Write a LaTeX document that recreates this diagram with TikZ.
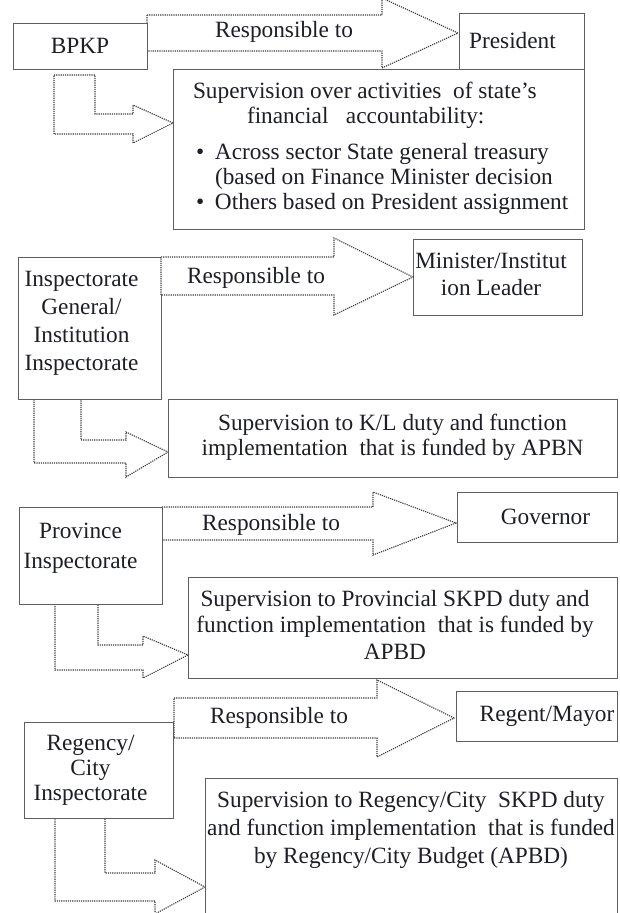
\documentclass[tikz,border=0pt]{standalone}
\usepackage{fontspec}
\setmainfont{Liberation Serif}
\definecolor{boxline}{HTML}{5E5E5E}
\definecolor{dotline}{HTML}{3C3C3C}
\definecolor{ink}{HTML}{1E1E28}
\begin{document}
\begin{tikzpicture}[x=1pt,y=-1pt,
  box/.style={draw=boxline, line width=1pt, fill=white, text=ink, inner sep=0pt,
    font=\fontsize{23.3}{28}\selectfont},
  blockarrow/.style={draw=dotline, line width=1.1pt, dash pattern=on 1.2pt off 1pt, fill=white},
  lbl/.style={text=ink, inner sep=0pt, font=\fontsize{23.3}{28}\selectfont}]
\useasboundingbox (0,0) rectangle (619,913);
\clip (0,0) rectangle (619,913);

% "Responsible to" block arrows and the bent block arrows (drawn under the boxes)
\draw[blockarrow] (147,15) -- (382,15) -- (382,-2) -- (458,33) -- (382,68) -- (382,51) -- (147,51) -- cycle;
\draw[blockarrow] (54,75) -- (95,75) -- (95,114) -- (133,114) -- (133,105) -- (173,123)
  -- (133,143) -- (133,134) -- (54,134) -- cycle;
\draw[blockarrow] (34,399) -- (81,399) -- (81,440) -- (126,440) -- (126,432) -- (168,452)
  -- (126,477) -- (126,463) -- (34,463) -- cycle;
\draw[blockarrow] (162,507) -- (373,507) -- (373,492) -- (456,523) -- (373,555) -- (373,540) -- (162,540) -- cycle;
\draw[blockarrow] (55,604) -- (98,604) -- (98,645) -- (143,645) -- (143,636) -- (188,655)
  -- (143,678) -- (143,670) -- (55,670) -- cycle;
\draw[blockarrow] (174,698) -- (377,698) -- (377,680) -- (454,718) -- (377,757) -- (377,738) -- (174,738) -- cycle;
\draw[blockarrow] (55,818) -- (105,818) -- (105,873) -- (155,873) -- (155,860) -- (205,887)
  -- (155,914) -- (155,901) -- (55,901) -- cycle;

% BPKP level
\node[box, minimum width=134pt, minimum height=46pt] (bpkp) at (80,46) {BPKP};
\node[box, minimum width=125pt, minimum height=56pt] (pres) at (521.5,41) {President\hspace*{18pt}};
\node[box, minimum width=411pt, minimum height=160pt, font=\fontsize{23.3}{25}\selectfont] (sup) at (378.5,149)
  {\makebox[373pt][l]{\begin{tabular}{@{}l@{}}
   \hspace*{1pt}Supervision over activities\ \ of state’s\\
   \hspace*{55pt}financial\ \ \ accountability:\\[11pt]
   \hspace*{4pt}\makebox[19pt][l]{\textbullet}Across sector State general treasury\\
   \hspace*{23pt}(based on Finance Minister decision\\
   \hspace*{4pt}\makebox[19pt][l]{\textbullet}Others based on President assignment
  \end{tabular}}};

% Inspectorate General level
\node[box, minimum width=143pt, minimum height=142pt] (insp) at (89.5,328)
  {\begin{tabular}{@{}c@{}}Inspectorate\\General/\\Institution\\Inspectorate\\[10pt]\end{tabular}\hspace*{16pt}};
\node[box, minimum width=169pt, minimum height=76pt, font=\fontsize{23.3}{27}\selectfont] (minister) at (497.5,277)
  {\begin{tabular}{@{}c@{}}Minister/Institut\\ion Leader\end{tabular}\hspace*{13pt}};
\node[box, minimum width=449pt, minimum height=78pt, font=\fontsize{23.3}{25}\selectfont] (kl) at (392.5,438)
  {\begin{tabular}{@{}c@{}}Supervision to K/L duty and function\\implementation\ \ that is funded by APBN\end{tabular}};
\draw[blockarrow] (161,257) -- (334,257) -- (334,238) -- (413,277) -- (334,315) -- (334,295) -- (161,295) -- cycle;

% Province level
\node[box, minimum width=143pt, minimum height=97pt, font=\fontsize{23.3}{30}\selectfont] (prov) at (90.5,555.5)
  {\begin{tabular}{@{}c@{}}Province\\Inspectorate\\[16pt]\end{tabular}\hspace*{20pt}};
\node[box, minimum width=160pt, minimum height=50pt] (gov) at (537,517) {\hspace*{17pt}Governor};
\node[box, minimum width=429pt, minimum height=101pt, font=\fontsize{23.3}{26.5}\selectfont] (skpd) at (402.5,627.5)
  {\begin{tabular}{@{}c@{}}Supervision to Provincial SKPD duty and\\function implementation\ \ that is funded by\\APBD\end{tabular}\hspace*{15pt}};

% Regency/City level
\node[box, minimum width=149pt, minimum height=96pt, font=\fontsize{23.3}{25}\selectfont] (regency) at (98.5,770)
  {\begin{tabular}{@{}c@{}}Regency/\\City\\Inspectorate\end{tabular}\hspace*{16pt}};
\node[box, minimum width=161pt, minimum height=50pt] (regent) at (536.5,716) {\hspace*{21pt}Regent/Mayor};
\node[box, minimum width=412pt, minimum height=157pt] (budget) at (411,856.5)
  {\begin{tabular}{@{}c@{}}Supervision to Regency/City\ \ SKPD duty\\and function implementation\ \ that is funded\\by Regency/City Budget (APBD)\\[53pt]\end{tabular}};

% arrow labels
\node[lbl] (resp1) at (284,32) {Responsible to};
\node[lbl] (resp2) at (256,278) {Responsible to};
\node[lbl] (resp3) at (271,525) {Responsible to};
\node[lbl] (resp4) at (279,718) {Responsible to};
\end{tikzpicture}
\end{document}
